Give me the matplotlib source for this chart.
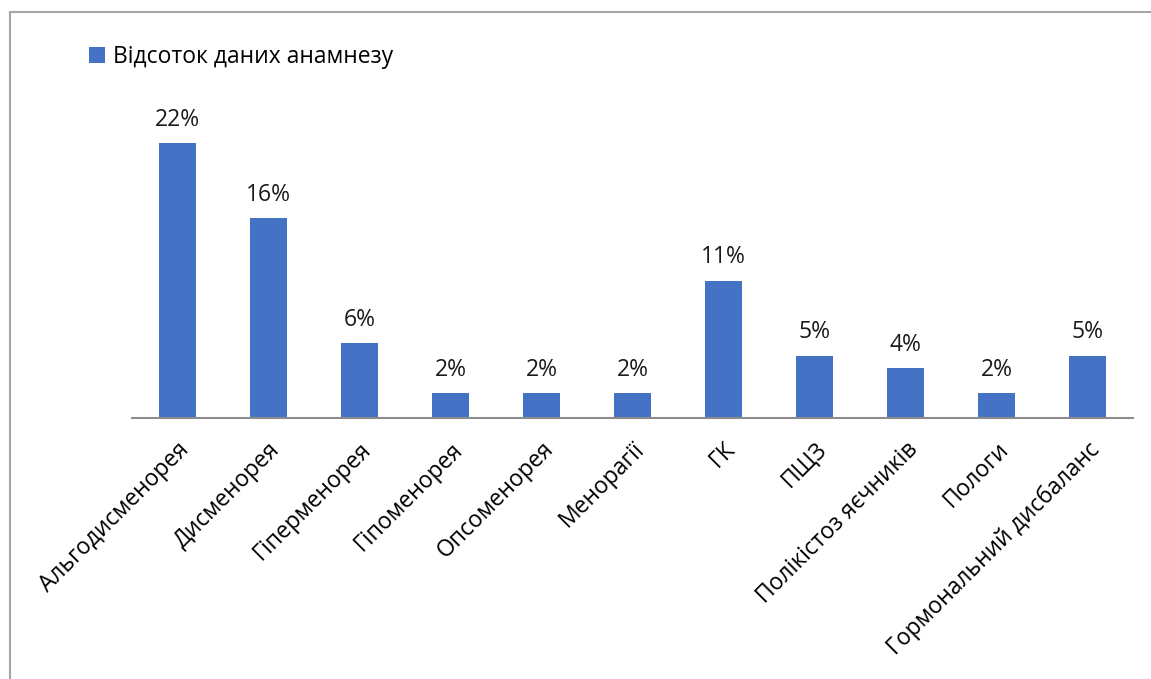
import matplotlib.pyplot as plt
from matplotlib.lines import Line2D

plt.rcParams['font.family'] = ['Open Sans', 'DejaVu Sans']

categories = ['Альгодисменорея', 'Дисменорея', 'Гіперменорея', 'Гіпоменорея',
              'Опсоменорея', 'Менорагії', 'ГК', 'ПЩЗ', 'Полікістоз яєчників',
              'Пологи', 'Гормональний дисбаланс']
values = [22, 16, 6, 2, 2, 2, 11, 5, 4, 2, 5]
series_name = 'Відсоток даних анамнезу'

bar_color = '#4472C4'

fig = plt.figure(figsize=(11.51, 6.79), dpi=100)
# рамка області діаграми (видно лише ліву та верхню сторони)
fx, fy = 10 / 1151, 1 - 12 / 679
fig.add_artist(Line2D([fx, fx], [0, fy], transform=fig.transFigure,
                      color='#A6A6A6', linewidth=1.5))
fig.add_artist(Line2D([fx, 1], [fy, fy], transform=fig.transFigure,
                      color='#A6A6A6', linewidth=1.5))

ax = fig.add_axes([132 / 1151, 1 - 418 / 679, 1001 / 1151, 312.5 / 679])
x = range(len(categories))
bars = ax.bar(x, values, width=0.4, color=bar_color, label=series_name)

for b, v in zip(bars, values):
    ax.text(b.get_x() + b.get_width() / 2, v + 0.9, f'{v}%',
            ha='center', va='bottom', fontsize=16.5, color='#1a1a1a')

ax.set_xlim(-0.5, len(categories) - 0.5)
ax.set_ylim(0, 25)
ax.set_yticks([])
ax.set_xticks(list(x))
ax.set_xticklabels(categories, rotation=45, ha='right', rotation_mode='anchor',
                   fontsize=16.5)
ax.tick_params(axis='x', length=0, pad=14)
for s in ['top', 'right', 'left']:
    ax.spines[s].set_visible(False)
ax.spines['bottom'].set_color('#8C8C8C')
ax.spines['bottom'].set_linewidth(1.5)

fig.legend(loc='upper left', bbox_to_anchor=(68 / 1151, 1 - 24 / 679),
           frameon=False, fontsize=16.5, handlelength=0.7, handleheight=0.7,
           handletextpad=0.35)

fig.savefig('out.png', dpi=100, facecolor='white')
